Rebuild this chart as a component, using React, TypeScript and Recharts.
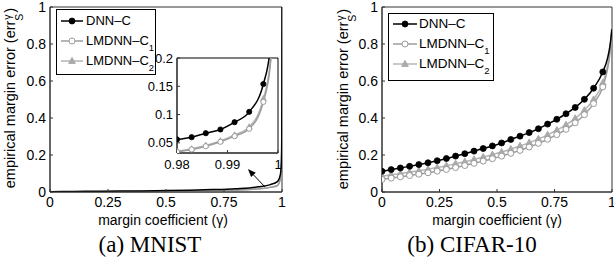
import React from "react";
import { LineChart, Line, XAxis, YAxis, ReferenceArea, ReferenceLine, CartesianGrid } from "recharts";

const FONT = '"Liberation Sans", Arial, Helvetica, sans-serif';
const SERIF = '"Liberation Serif", "Times New Roman", serif';

// series labels
const seriesNames = ["DNN–C", "LMDNN–C", "LMDNN–C"];
const seriesSubs = ["", "1", "2"];
const seriesKeys = ["dnn", "lm1", "lm2"];
const seriesColors = ["#000000", "#9c9c9c", "#b4b4b4"];

const xTicks = [0, 0.25, 0.5, 0.75, 1];
const yTicks = [0, 0.2, 0.4, 0.6, 0.8, 1];
const zoomXTicks = [0.98, 0.99, 1];
const zoomYTicks = [0.05, 0.1, 0.15, 0.2];

// MNIST
const mnistGamma = [0, 0.1, 0.2, 0.3, 0.4, 0.5, 0.6, 0.7, 0.8, 0.9, 0.95, 0.98, 0.9829, 0.9857, 0.9886, 0.9914, 0.9943, 0.9971, 0.9985, 0.999, 1];
const mnistDnn = [0.002, 0.003, 0.004, 0.005, 0.006, 0.008, 0.01, 0.013, 0.018, 0.028, 0.04, 0.056, 0.06, 0.067, 0.0736, 0.0865, 0.1048, 0.154, 0.22, 0.3, 1];
const mnistLm1 = [0.001, 0.0015, 0.002, 0.0025, 0.003, 0.004, 0.005, 0.007, 0.01, 0.017, 0.025, 0.034, 0.0383, 0.044, 0.0518, 0.0618, 0.0748, 0.1224, 0.19, 0.26, 1];
const mnistLm2 = [0.001, 0.0015, 0.002, 0.003, 0.0035, 0.0045, 0.0055, 0.0075, 0.011, 0.018, 0.026, 0.035, 0.0395, 0.0455, 0.0535, 0.064, 0.078, 0.128, 0.195, 0.27, 1];

// CIFAR-10
const cifarGamma = [0, 0.04, 0.08, 0.12, 0.16, 0.2, 0.24, 0.28, 0.32, 0.36, 0.4, 0.44, 0.48, 0.52, 0.56, 0.6, 0.64, 0.68, 0.72, 0.76, 0.8, 0.84, 0.88, 0.92, 0.96, 0.98, 0.99, 1];
const cifarDnn = [0.112, 0.121, 0.13, 0.139, 0.148, 0.158, 0.169, 0.181, 0.194, 0.207, 0.221, 0.235, 0.249, 0.265, 0.284, 0.302, 0.321, 0.342, 0.367, 0.393, 0.423, 0.457, 0.501, 0.561, 0.649, 0.72, 0.78, 0.88];
const cifarLm1 = [0.068, 0.075, 0.082, 0.089, 0.096, 0.104, 0.113, 0.122, 0.132, 0.143, 0.155, 0.167, 0.18, 0.194, 0.209, 0.225, 0.243, 0.263, 0.285, 0.31, 0.339, 0.374, 0.418, 0.478, 0.568, 0.66, 0.74, 0.9];
const cifarLm2 = [0.086, 0.093, 0.1, 0.107, 0.115, 0.123, 0.132, 0.142, 0.153, 0.164, 0.176, 0.189, 0.202, 0.216, 0.232, 0.249, 0.267, 0.287, 0.309, 0.334, 0.363, 0.398, 0.442, 0.5, 0.59, 0.68, 0.76, 0.9];

const rows = (g: number[], a: number[], b: number[], c: number[]) =>
  g.map((gamma, i) => ({ gamma, dnn: a[i], lm1: b[i], lm2: c[i] }));

const mnistRows = rows(mnistGamma, mnistDnn, mnistLm1, mnistLm2);
const mnistZoomRows = mnistRows.filter((r) => r.gamma >= 0.98);
const cifarRows = rows(cifarGamma, cifarDnn, cifarLm1, cifarLm2);

function Marker({ kind, cx, cy, r = 3 }: any) {
  if (kind === 0) return <circle cx={cx} cy={cy} r={r} fill="#000" stroke="#000" strokeWidth={0.8} />;
  if (kind === 1) return <circle cx={cx} cy={cy} r={r} fill="#fff" stroke="#999" strokeWidth={1} />;
  const h = r * 2;
  return (
    <polygon
      points={`${cx},${cy - h * 0.6} ${cx - h * 0.55},${cy + h * 0.4} ${cx + h * 0.55},${cy + h * 0.4}`}
      fill="#aaa"
      stroke="#aaa"
    />
  );
}

const dotFor = (kind: number, show: (g: number) => boolean, r: number) => (p: any) => {
  const k = `d${kind}-${p.index}`;
  if (!show(p.payload.gamma)) return <g key={k} />;
  return (
    <g key={k}>
      <Marker kind={kind} cx={p.cx} cy={p.cy} r={r} />
    </g>
  );
};

function Arrow(props: any) {
  const { x1, y1, x2, y2 } = props;
  const a = Math.atan2(y2 - y1, x2 - x1);
  const L = 8;
  const W = 3.2;
  const bx = x2 - L * Math.cos(a);
  const by = y2 - L * Math.sin(a);
  const px = -Math.sin(a) * W;
  const py = Math.cos(a) * W;
  return (
    <g>
      <line x1={x1} y1={y1} x2={bx} y2={by} stroke="#000" strokeWidth={1} />
      <polygon points={`${x2},${y2} ${bx + px},${by + py} ${bx - px},${by - py}`} fill="#000" />
    </g>
  );
}

const tickStyle = { fill: "#000", fontSize: 14, fontFamily: FONT };
const zoomTickStyle = { fill: "#000", fontSize: 13, fontFamily: FONT };

function Lines({ show, r, markers }: any) {
  return (
    <>
      {seriesKeys.map((k, i) => (
        <Line
          key={k}
          dataKey={k}
          type="monotone"
          stroke={seriesColors[i]}
          strokeWidth={1.5}
          dot={markers ? dotFor(i, show, r) : false}
          activeDot={false}
          isAnimationActive={false}
        />
      )).reverse()}
    </>
  );
}

function YTitle({ cx, cy }: any) {
  return (
    <div
      style={{
        position: "absolute",
        left: cx,
        top: cy,
        transform: "translate(-50%, -50%) rotate(-90deg)",
        whiteSpace: "nowrap",
        fontSize: 14.5,
        fontFamily: FONT,
        lineHeight: "18px",
      }}
    >
      empirical margin error (err
      <span style={{ position: "relative", display: "inline-block", width: 8, height: 10 }}>
        <span style={{ position: "absolute", left: 1, top: -7, fontSize: 10.5 }}>γ</span>
        <span style={{ position: "absolute", left: 0, top: 5, fontSize: 10.5 }}>S</span>
      </span>
      )
    </div>
  );
}

function Text({ x, y, size, family, children }: any) {
  return (
    <div
      style={{
        position: "absolute",
        left: x,
        top: y,
        transform: "translateX(-50%)",
        whiteSpace: "nowrap",
        fontSize: size,
        fontFamily: family,
        lineHeight: 1,
      }}
    >
      {children}
    </div>
  );
}

function LegendBox({ left, top, width, height, rowsY, sx, sw, tx, size }: any) {
  return (
    <div style={{ position: "absolute", left, top, width, height, border: "1px solid #000", background: "#fff", boxSizing: "border-box" }}>
      <svg width={width} height={height} style={{ position: "absolute", left: -1, top: -1 }}>
        {seriesKeys.map((k, i) => (
          <g key={k}>
            <line x1={sx} x2={sx + sw} y1={rowsY[i]} y2={rowsY[i]} stroke={seriesColors[i]} strokeWidth={1.5} />
            <Marker kind={i} cx={sx + sw / 2} cy={rowsY[i]} r={3} />
          </g>
        ))}
      </svg>
      {seriesNames.map((n, i) => (
        <div
          key={i}
          style={{ position: "absolute", left: tx - 1, top: rowsY[i] - 9, fontSize: size, fontFamily: FONT, lineHeight: "16px", whiteSpace: "nowrap" }}
        >
          {n}
          {seriesSubs[i] && <span style={{ fontSize: 9.5, position: "relative", top: 6 }}>{seriesSubs[i]}</span>}
        </div>
      ))}
    </div>
  );
}

export default function App() {
  return (
    <div style={{ position: "absolute", left: 0, top: 0, width: 614, height: 264, background: "#fff", overflow: "hidden" }}>
      {/* MNIST */}
      <div style={{ position: "absolute", left: 0, top: 0 }}>
        <LineChart width={300} height={264} data={mnistRows} margin={{ top: 7, right: 18, bottom: 0, left: 0 }}>
          <XAxis dataKey="gamma" type="number" domain={[0, 1]} ticks={xTicks} interval={0} height={72} tickSize={-3} tickMargin={8} stroke="#333" tick={tickStyle} allowDataOverflow />
          <YAxis type="number" domain={[0, 1]} ticks={yTicks} interval={0} width={50} tickSize={-3} tickMargin={7} stroke="#333" tick={tickStyle} allowDataOverflow />
          <ReferenceArea x1={0} x2={1} y1={0} y2={1} fill="none" stroke="#333" strokeWidth={1} ifOverflow="visible" />
          {Lines({ markers: false })}
          <ReferenceLine segment={[{ x: 0.927, y: 0.027 }, { x: 0.853, y: 0.124 }]} shape={Arrow} ifOverflow="visible" />
        </LineChart>
      </div>
      <LegendBox left={56} top={9} width={100} height={66} rowsY={[12, 32, 52]} sx={5} sw={22} tx={30} size={13} />
      {/* MNIST zoom inset */}
      <div style={{ position: "absolute", left: 110, top: 50 }}>
        <LineChart width={175} height={135} data={mnistZoomRows} margin={{ top: 8, right: 7, bottom: 0, left: 0 }}>
          <CartesianGrid fill="#fff" horizontal={false} vertical={false} />
          <XAxis dataKey="gamma" type="number" domain={[0.98, 1]} ticks={zoomXTicks} interval={0} height={32} tickSize={-3} tickMargin={10} stroke="#333" tick={zoomTickStyle} allowDataOverflow />
          <YAxis type="number" domain={[0.032, 0.2]} ticks={zoomYTicks} interval={0} width={67} tickSize={-3} tickMargin={7} stroke="#333" tick={zoomTickStyle} allowDataOverflow />
          <ReferenceArea x1={0.98} x2={1} y1={0.032} y2={0.2} fill="none" stroke="#000" strokeWidth={1} ifOverflow="visible" />
          {Lines({ markers: true, r: 2.6, show: (g: number) => g <= 0.9975 })}
        </LineChart>
      </div>
      <YTitle cx={10} cy={98} />
      <Text x={163} y={213} size={14} family={FONT}>margin coefficient (γ)</Text>
      <Text x={150} y={233} size={23} family={SERIF}>(a) MNIST</Text>

      {/* CIFAR-10 */}
      <div style={{ position: "absolute", left: 305, top: 0 }}>
        <LineChart width={309} height={264} data={cifarRows} margin={{ top: 7, right: 2, bottom: 0, left: 0 }}>
          <XAxis dataKey="gamma" type="number" domain={[0, 1]} ticks={xTicks} interval={0} height={72} tickSize={-3} tickMargin={8} stroke="#333" tick={tickStyle} allowDataOverflow />
          <YAxis type="number" domain={[0, 1]} ticks={yTicks} interval={0} width={77} tickSize={-3} tickMargin={7} stroke="#333" tick={tickStyle} allowDataOverflow />
          <ReferenceArea x1={0} x2={1} y1={0} y2={1} fill="none" stroke="#333" strokeWidth={1} ifOverflow="visible" />
          {Lines({ markers: true, r: 3, show: (g: number) => g <= 0.965 })}
        </LineChart>
      </div>
      <LegendBox left={388} top={13} width={106} height={68} rowsY={[11, 31, 51]} sx={5} sw={24} tx={31} size={13.5} />
      <YTitle cx={343} cy={99} />
      <Text x={497} y={213} size={14} family={FONT}>margin coefficient (γ)</Text>
      <Text x={472} y={233} size={23} family={SERIF}>(b) CIFAR-10</Text>
    </div>
  );
}
